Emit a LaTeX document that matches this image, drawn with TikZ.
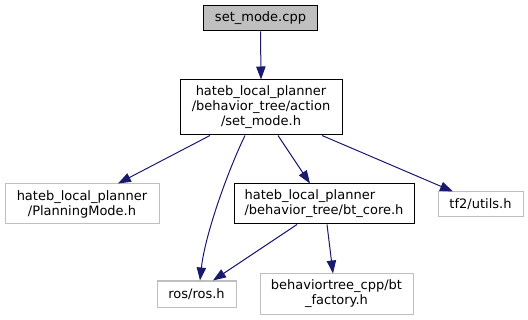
\documentclass[tikz,border=0pt]{standalone}
\usepackage{fontspec}
\setmainfont{DejaVu Sans}
\usetikzlibrary{arrows.meta}
\definecolor{edgeblue}{HTML}{191970}
\definecolor{boxgray}{HTML}{BFBFBF}
\begin{document}
\begin{tikzpicture}[x=0.75pt,y=-0.75pt,
  every node/.style={inner sep=0pt,font=\fontsize{9.75}{11.25}\selectfont},
  filebox/.style={draw=black,line width=0.75pt,fill=white,align=center},
  extbox/.style={draw=boxgray,line width=0.75pt,fill=white,align=center},
  rootbox/.style={draw=black,line width=0.75pt,fill=boxgray,align=center},
  dep/.style={draw=edgeblue,line width=0.75pt,
    -{Triangle[length=9.75pt,width=7pt]},edgeblue}]
  \useasboundingbox (0,0) rectangle (528,320);

  % include graph nodes
  \node[rootbox,minimum width=114*0.75pt,minimum height=25*0.75pt] (cpp) at (260.5,18.5) {set\_mode.cpp};
  \node[filebox,minimum width=162*0.75pt,minimum height=55*0.75pt] (setmode) at (261,107.5)
    {hateb\_local\_planner\\/behavior\_tree/action\\/set\_mode.h};
  \node[extbox,minimum width=154*0.75pt,minimum height=40*0.75pt] (planning) at (82,204)
    {hateb\_local\_planner\\/PlanningMode.h};
  \node[filebox,align=left,minimum width=180*0.75pt,minimum height=40*0.75pt] (btcore) at (324,204)
    {hateb\_local\_planner\\/behavior\_tree/bt\_core.h};
  \node[extbox,minimum width=85*0.75pt,minimum height=25*0.75pt] (tf) at (480.5,204.5) {tf2/utils.h};
  \node[extbox,minimum width=79*0.75pt,minimum height=26*0.75pt] (ros) at (196.5,294) {ros/ros.h};
  \node[extbox,minimum width=153*0.75pt,minimum height=40*0.75pt] (factory) at (336.5,294)
    {behaviortree\_cpp/bt\\\_factory.h};

  % include edges
  \draw[dep] (cpp.south) -- (setmode.north);
  \draw[dep] ([xshift=-51*0.75pt]setmode.south) -- ([xshift=36*0.75pt]planning.north);
  \draw[dep] ([xshift=-16*0.75pt]setmode.south) .. controls +(-17,35) and +(5,-46) .. ([xshift=3.5*0.75pt]ros.north);
  \draw[dep] ([xshift=17*0.75pt]setmode.south) -- ([xshift=-14*0.75pt]btcore.north);
  \draw[dep] ([xshift=61*0.75pt]setmode.south) -- ([xshift=-27.5*0.75pt]tf.north);
  \draw[dep] ([xshift=-27*0.75pt]btcore.south) -- ([xshift=16.5*0.75pt]ros.north);
  \draw[dep] ([xshift=3*0.75pt]btcore.south) -- ([xshift=-3.5*0.75pt]factory.north);
\end{tikzpicture}
\end{document}
